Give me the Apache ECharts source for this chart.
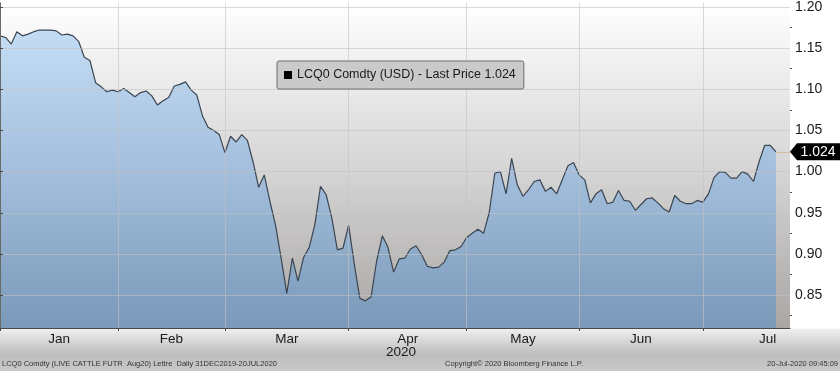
<!DOCTYPE html>
<html><head><meta charset="utf-8">
<script src="https://cdn.jsdelivr.net/npm/echarts@6/dist/echarts.min.js"></script>
<style>html,body{margin:0;padding:0;background:#fff}#c{width:840px;height:371px}</style>
</head><body><div id="c"></div>
<script>
// Trading days (categories), grouped by month
const tradingDays = {
  '2019-12': [31],
  '2020-01': [2,3,6,7,8,9,10,13,14,15,16,17,21,22,23,24,27,28,29,30,31],
  '2020-02': [3,4,5,6,7,10,11,12,13,14,18,19,20,21,24,25,26,27,28],
  '2020-03': [2,3,4,5,6,9,10,11,12,13,16,17,18,19,20,23,24,25,26,27,30,31],
  '2020-04': [1,2,3,6,7,8,9,13,14,15,16,17,20,21,22,23,24,27,28,29,30],
  '2020-05': [1,4,5,6,7,8,11,12,13,14,15,18,19,20,21,22,26,27,28,29],
  '2020-06': [1,2,3,4,5,8,9,10,11,12,15,16,17,18,19,22,23,24,25,26,29,30],
  '2020-07': [1,2,6,7,8,9,10,13,14,15,16,17,20]
};
const dates = [];
Object.keys(tradingDays).forEach(m => tradingDays[m].forEach(d => dates.push(m + '-' + String(d).padStart(2,'0'))));

// Last price, LCQ0 Comdty
const prices = [
  1.165,1.163,1.155,1.170,1.165,1.167,1.170,1.172,1.172,1.172,
  1.171,1.166,1.167,1.165,1.158,1.139,1.135,1.108,1.103,1.097,
  1.099,1.097,1.101,1.096,1.091,1.096,1.098,1.092,1.081,1.086,
  1.090,1.104,1.106,1.109,1.099,1.093,1.068,1.054,1.050,1.045,
  1.023,1.043,1.036,1.045,1.038,1.012,0.981,0.996,0.964,0.935,
  0.895,0.852,0.895,0.867,0.896,0.908,0.936,0.982,0.972,0.944,
  0.905,0.907,0.935,0.888,0.846,0.843,0.848,0.892,0.922,0.908,
  0.878,0.894,0.895,0.906,0.910,0.899,0.885,0.883,0.884,0.890,
  0.904,0.905,0.909,0.920,0.925,0.930,0.925,0.950,0.998,1.000,
  0.973,1.016,0.984,0.970,0.978,0.988,0.990,0.976,0.981,0.973,
  0.990,1.007,1.011,0.996,0.990,0.962,0.973,0.978,0.961,0.963,
  0.977,0.965,0.964,0.953,0.960,0.967,0.968,0.962,0.955,0.951,
  0.971,0.964,0.961,0.961,0.965,0.963,0.973,0.993,1.000,0.999,
  0.992,0.992,1.000,0.997,0.988,1.012,1.032,1.032,1.024
];

const monthNames = ['Jan','Feb','Mar','Apr','May','Jun','Jul'];
const monthLabelAt = [10.5,30.5,51,72.5,93,114,136.5];
const yTicks = [0.85,0.90,0.95,1.00,1.05,1.10,1.15,1.20];
const yMinorTicks = [0.825,0.875,0.925,0.975,1.025,1.075,1.125,1.175];

const monthEnds = [];
for (let i = 0; i < dates.length - 1; i++) {
  if (dates[i].slice(5,7) !== dates[i+1].slice(5,7)) monthEnds.push(i);
}
const lastIdx = prices.length - 1;
const lastPrice = prices[lastIdx];
const X_MAX = 140.5;
const FONT = '"Liberation Sans", Arial, sans-serif';

const chart = echarts.init(document.getElementById('c'));
chart.setOption({
  animation: false,
  backgroundColor: new echarts.graphic.LinearGradient(0,0,0,1,[
    {offset:0,color:'#ffffff'},{offset:0.884,color:'#ffffff'},
    {offset:0.888,color:'#eeeeee'},{offset:0.955,color:'#bdbdbd'},{offset:1,color:'#c9c9c9'}
  ]),
  textStyle: {fontFamily: FONT},
  title: [
    {text:'2020', left:386, top:345, padding:0, textStyle:{fontSize:13.5,fontWeight:'normal',color:'#1a1a1a',fontFamily:FONT}},
    {text:'LCQ0 Comdty (LIVE CATTLE FUTR  Aug20) Lettre  Daily 31DEC2019-20JUL2020', left:2, top:360, padding:0, textStyle:{fontSize:7.5,fontWeight:'normal',color:'#333',fontFamily:FONT}},
    {text:'Copyright\u00a9 2020 Bloomberg Finance L.P.', left:445, top:360, padding:0, textStyle:{fontSize:7.5,fontWeight:'normal',color:'#333',fontFamily:FONT}},
    {text:'20-Jul-2020 09:45:09', right:2, top:360, padding:0, textStyle:{fontSize:7.5,fontWeight:'normal',color:'#333',fontFamily:FONT}}
  ],
  legend: {
    left: 277, top: 61,
    padding: [7, 8, 7, 7],
    backgroundColor: '#cacaca', borderColor: '#6e6e6e', borderWidth: 1, borderRadius: 2,
    icon: 'rect', itemWidth: 8, itemHeight: 8,
    data: [{name:'LCQ0 Comdty', itemStyle:{color:'#000'}}],
    formatter: () => 'LCQ0 Comdty (USD) - Last Price ' + lastPrice.toFixed(3),
    textStyle: {fontSize: 12.5, color: '#1a1a1a', fontFamily: FONT, lineHeight: 14},
    selectedMode: false
  },
  grid: {
    left: 0, right: 50, top: 0, bottom: 43, show: true, borderWidth: 0,
    backgroundColor: new echarts.graphic.LinearGradient(0,0,0,1,[
      {offset:0,color:'#ffffff'},{offset:0.5,color:'#d6d6d6'},{offset:1,color:'#a9a6a4'}
    ])
  },
  xAxis: {
    type: 'value', min: 0, max: X_MAX, z: 3,
    axisLine: {show: true, lineStyle: {color: '#4a4a4a', width: 1}},
    axisTick: {show: true, customValues: monthEnds, length: 3, lineStyle: {color: '#4a4a4a'}},
    axisLabel: {
      customValues: monthLabelAt,
      formatter: v => monthNames[monthLabelAt.indexOf(v)] || '',
      fontSize: 13.5, color: '#1a1a1a', margin: 4, fontFamily: FONT
    },
    splitLine: {show: true, lineStyle: {color: 'rgba(195,195,195,0.6)', width: 1}}
  },
  yAxis: [{
    type: 'value', position: 'right', min: 0.81, max: 1.205, z: 3,
    axisLine: {show: true, lineStyle: {color: '#6a6a6a', width: 1}},
    axisTick: {show: true, customValues: yTicks, length: 3, lineStyle: {color: '#4a4a4a'}},
    axisLabel: {customValues: yTicks, formatter: v => v.toFixed(2), fontSize: 14, color: '#1a1a1a', margin: 5, fontFamily: FONT},
    splitLine: {show: true, lineStyle: {color: 'rgba(195,195,195,0.6)', width: 1}}
  }, {
    type: 'value', position: 'right', min: 0.81, max: 1.205, z: 3,
    axisLine: {show: false},
    axisTick: {show: true, customValues: yMinorTicks, length: 2, lineStyle: {color: '#4a4a4a'}},
    axisLabel: {show: false},
    splitLine: {show: false}
  }],
  series: [{
    name: 'LCQ0 Comdty',
    type: 'line',
    data: prices.map((v, i) => [i, v]),
    showSymbol: false,
    z: 2,
    lineStyle: {color: '#3a4550', width: 1.2},
    itemStyle: {color: '#3a4550'},
    areaStyle: {
      origin: 'start',
      opacity: 1,
      color: new echarts.graphic.LinearGradient(0,0,0,1,[
        {offset:0,color:'#c4ddf5'},{offset:0.5,color:'#a1bddb'},{offset:1,color:'#7a98b8'}
      ])
    },
    markLine: {
      silent: true, symbol: 'none', animation: false,
      label: {show: false},
      lineStyle: {color: '#d8bc9c', type: 'solid', width: 1},
      data: [[{coord: [lastIdx, lastPrice]}, {coord: [X_MAX, lastPrice]}]]
    },
    markPoint: {
      silent: true, animation: false,
      symbol: 'path://M0,8 L7,0 L50,0 L50,16 L7,16 Z',
      symbolSize: [50, 17],
      symbolKeepAspect: false,
      symbolOffset: ['50%', 0],
      itemStyle: {color: '#000'},
      label: {show: true, position: 'inside', formatter: () => lastPrice.toFixed(3), color: '#fff', fontSize: 14, fontFamily: FONT, offset: [3, 0]},
      data: [{coord: [X_MAX, lastPrice]}]
    }
  }]
});
</script></body></html>
